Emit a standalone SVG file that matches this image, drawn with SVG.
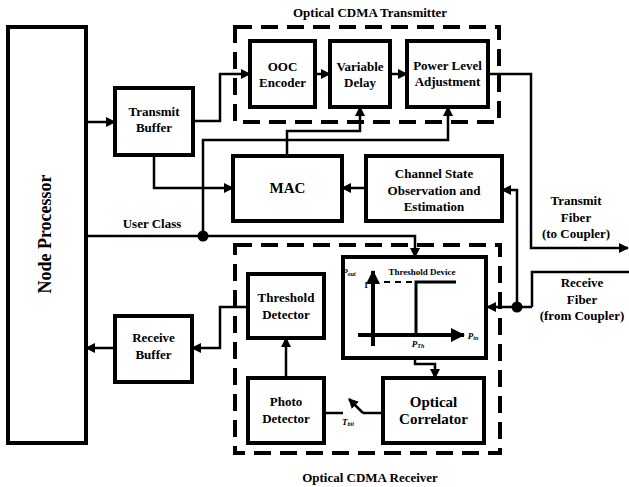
<svg xmlns="http://www.w3.org/2000/svg" width="629" height="487" viewBox="0 0 629 487">
<defs>
<marker id="ah" markerWidth="10" markerHeight="10" refX="9" refY="5" orient="auto" markerUnits="userSpaceOnUse">
<path d="M0,0 L10,5 L0,10 Z" fill="#000"/>
</marker>
<marker id="ahb" markerWidth="14" markerHeight="14" refX="13" refY="7" orient="auto" markerUnits="userSpaceOnUse">
<path d="M0,0 L14,7 L0,14 Z" fill="#000"/>
</marker>
<style>
.box{fill:#fff;stroke:#000;stroke-width:4}
.dash{fill:none;stroke:#000;stroke-width:4;stroke-dasharray:17 9}
.ln{fill:none;stroke:#000;stroke-width:2.5}
.arr{fill:none;stroke:#000;stroke-width:2.5;marker-end:url(#ah)}
text{font-family:"Liberation Serif","Times New Roman",serif;font-weight:bold;fill:#000;text-anchor:middle}
.t{font-size:13px}
.title{font-size:13px}
.sm{font-size:9px}
.it{font-style:italic}
</style>
</defs>
<rect width="629" height="487" fill="#fff"/>

<!-- dashed containers -->
<g id="transmitter">
<rect class="dash" x="235" y="27" width="264" height="95"/>
<text class="title" x="370" y="17">Optical CDMA Transmitter</text>
</g>
<g id="receiver">
<rect class="dash" x="235" y="245" width="265" height="208"/>
<text class="title" x="370" y="482">Optical CDMA Receiver</text>
</g>

<g id="connectors">
<!-- Node Processor -> Transmit Buffer -->
<path class="arr" d="M86,122 H115"/>
<!-- Transmit Buffer -> OOC -->
<path class="arr" d="M193,121 H220 V74 H250"/>
<!-- Transmit Buffer -> MAC -->
<path class="arr" d="M154,155 V188 H233"/>
<!-- OOC -> Variable Delay -->
<path class="arr" d="M315,74 H330"/>
<!-- Variable Delay -> Power Level -->
<path class="arr" d="M390,74 H407"/>
<!-- MAC -> Variable Delay -->
<path class="arr" d="M287,156 V131 H360 V107"/>
<!-- User class junction -> Power Level -->
<path class="arr" d="M203,236 V140 H448 V107"/>
<!-- User class line -> Threshold Device -->
<path class="arr" d="M86,236 H415 V257"/>
<circle cx="203" cy="236" r="5.5" fill="#000"/>
<!-- Channel State -> MAC -->
<path class="arr" d="M366,188 H342"/>
<!-- Transmit fiber -->
<path class="arr" d="M488,74 H531 V248 H628"/>
<!-- Receive fiber -->
<path class="ln" d="M629,272 H532 V307"/>
<path class="arr" d="M532,307 H487"/>
<path class="arr" d="M517,307 V190 H502"/>
<circle cx="517" cy="307" r="5.5" fill="#000"/>
<!-- Threshold Device -> Optical Correlator -->
<path class="arr" d="M415,358 V364 H435 V378"/>
<!-- Optical Correlator -> Photo Detector (switch) -->
<path class="ln" d="M383,413 H363"/>
<path class="arr" d="M363,413 L349,399"/>
<path class="ln" d="M324,413 H343"/>
<!-- Photo Detector -> Threshold Detector -->
<path class="arr" d="M286,378 V338"/>
<!-- Threshold Detector -> Receive Buffer -->
<path class="arr" d="M248,307 H220 V348 H192"/>
<!-- Receive Buffer -> Node Processor -->
<path class="arr" d="M115,348 H86"/>
</g>

<g id="node-processor">
<rect class="box" x="8" y="27" width="78" height="416"/>
<text x="51" y="234" font-size="18" transform="rotate(-90 51 234)" dy="0">Node Processor</text>
</g>
<g id="transmit-buffer">
<rect class="box" x="115" y="88" width="78" height="67"/>
<text class="t" x="154" y="116">Transmit</text>
<text class="t" x="154" y="132">Buffer</text>
</g>
<g id="ooc-encoder">
<rect class="box" x="250" y="41" width="65" height="66"/>
<text class="t" x="282.5" y="71">OOC</text>
<text class="t" x="282.5" y="87">Encoder</text>
</g>
<g id="variable-delay">
<rect class="box" x="330" y="41" width="60" height="66"/>
<text class="t" x="360" y="71">Variable</text>
<text class="t" x="360" y="87">Delay</text>
</g>
<g id="power-level">
<rect class="box" x="407" y="41" width="81" height="66"/>
<text class="t" x="447.5" y="70">Power Level</text>
<text class="t" x="447.5" y="86">Adjustment</text>
</g>
<g id="mac">
<rect class="box" x="233" y="156" width="109" height="65"/>
<text x="287.5" y="193" font-size="15">MAC</text>
</g>
<g id="channel-state">
<rect class="box" x="366" y="156" width="136" height="65"/>
<text class="t" x="434" y="178">Channel State</text>
<text class="t" x="434" y="195">Observation and</text>
<text class="t" x="434" y="211">Estimation</text>
</g>
<g id="labels">
<text class="t" x="152" y="228">User Class</text>
<text class="t" x="576" y="205">Transmit</text>
<text class="t" x="576" y="222">Fiber</text>
<text class="t" x="576" y="238">(to Coupler)</text>
<text class="t" x="582" y="287">Receive</text>
<text class="t" x="582" y="304">Fiber</text>
<text class="t" x="582" y="320">(from Coupler)</text>
<text class="sm it" x="348" y="425">T<tspan font-size="6" dy="1">bit</tspan></text>
</g>
<g id="threshold-device">
<rect class="box" x="343" y="257" width="143" height="101"/>
<text class="sm" x="422" y="275">Threshold Device</text>
<text class="sm it" x="349" y="275">P<tspan font-size="6" dy="1">out</tspan></text>
<text class="sm" x="366" y="288">1</text>
<path d="M373,282 H416" fill="none" stroke="#000" stroke-width="2" stroke-dasharray="6 5"/>
<path d="M373,346 V271" fill="none" stroke="#000" stroke-width="4" marker-end="url(#ahb)"/>
<path d="M358,335 H464" fill="none" stroke="#000" stroke-width="4" marker-end="url(#ahb)"/>
<path d="M416,335 V282 H456" fill="none" stroke="#000" stroke-width="3"/>
<text class="sm it" x="473" y="339">P<tspan font-size="6" dy="1">in</tspan></text>
<text class="sm it" x="418" y="347">P<tspan font-size="6" dy="1">Th</tspan></text>
</g>
<g id="threshold-detector">
<rect class="box" x="248" y="274" width="76" height="64"/>
<text class="t" x="286" y="302">Threshold</text>
<text class="t" x="286" y="319">Detector</text>
</g>
<g id="receive-buffer">
<rect class="box" x="115" y="316" width="77" height="66"/>
<text class="t" x="153.5" y="342">Receive</text>
<text class="t" x="153.5" y="359">Buffer</text>
</g>
<g id="photo-detector">
<rect class="box" x="248" y="378" width="76" height="65"/>
<text class="t" x="286" y="406">Photo</text>
<text class="t" x="286" y="423">Detector</text>
</g>
<g id="optical-correlator">
<rect class="box" x="383" y="378" width="101" height="65"/>
<text x="433.5" y="407" font-size="15">Optical</text>
<text x="433.5" y="424" font-size="15">Correlator</text>
</g>
</svg>
